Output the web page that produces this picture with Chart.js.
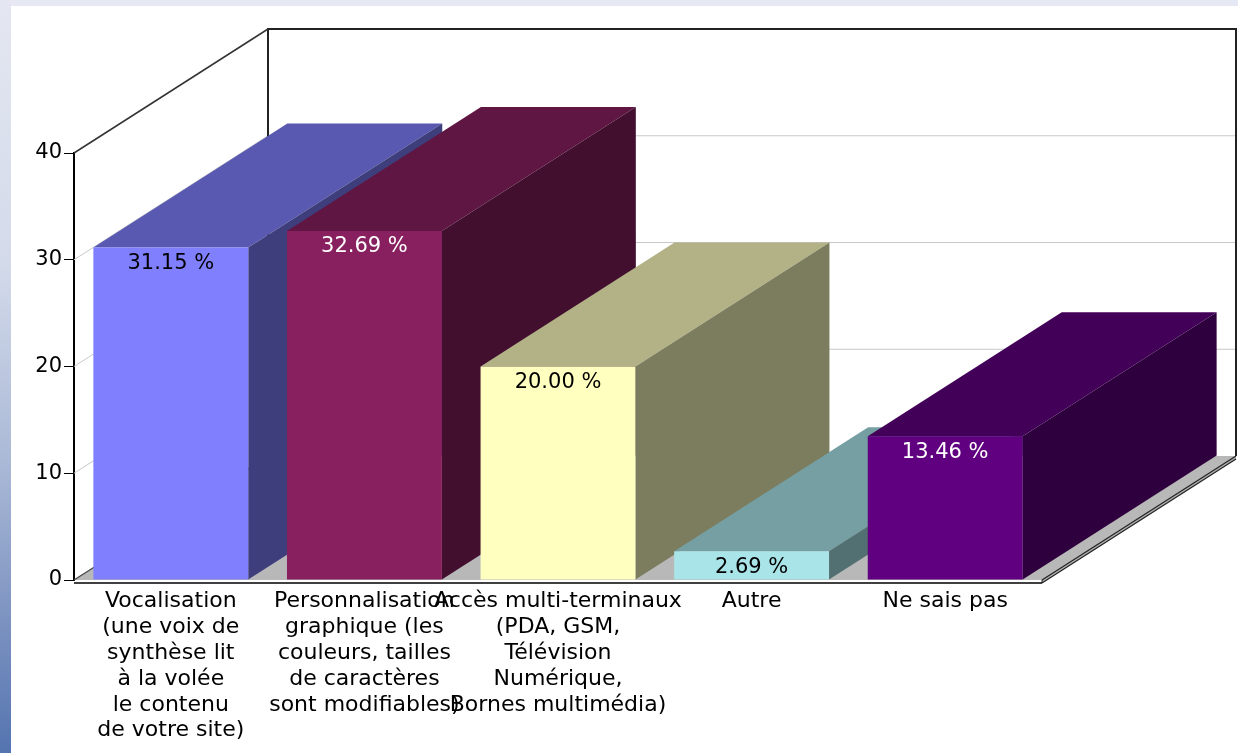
<!DOCTYPE html>
<html>
<head>
<meta charset="utf-8">
<script src="https://cdn.jsdelivr.net/npm/chart.js@4.4.1/dist/chart.umd.min.js"></script>
<style>
  html, body { margin: 0; padding: 0; }
  body { width: 1238px; height: 753px; background: #e6e9f3; position: relative; overflow: hidden; }
  #strip { position: absolute; left: 0; top: 0; width: 11px; height: 753px;
           background: linear-gradient(to bottom, #e4e7f1 0%, #d3daea 35%, #a9b8d6 62%, #7d93c1 82%, #5474b0 100%); }
  #box { position: absolute; left: 11px; top: 6px; width: 1227px; height: 747px; background: #fff; }
</style>
</head>
<body>
<div id="strip"></div>
<div id="box"><canvas id="chart" width="1227" height="747"></canvas></div>
<script>
const categories = [
    ['Vocalisation', '(une voix de', 'synthèse lit', 'à la volée', 'le contenu', 'de votre site)'],
    ['Personnalisation', 'graphique (les', 'couleurs, tailles', 'de caractères', 'sont modifiables)'],
    ['Accès multi-terminaux', '(PDA, GSM,', 'Télévision', 'Numérique,', 'Bornes multimédia)'],
    ['Autre'],
    ['Ne sais pas']
];
const percentages = [31.15, 32.69, 20.00, 2.69, 13.46];
const yTicks = [0, 10, 20, 30, 40];

const barColors = ['#8080ff', '#882060', '#ffffc0', '#a8e4e8', '#600080'];

// 3d offset of the back wall
const DX = 194;
const DY = -124;

Chart.defaults.font.family = '"DejaVu Sans", sans-serif';
Chart.defaults.color = '#000';

function shade(hex, f) {
    const n = parseInt(hex.slice(1), 16);
    const r = Math.floor(((n >> 16) & 255) * f);
    const g = Math.floor(((n >> 8) & 255) * f);
    const b = Math.floor((n & 255) * f);
    return 'rgb(' + r + ',' + g + ',' + b + ')';
}

function isDark(hex) {
    const n = parseInt(hex.slice(1), 16);
    const lum = 0.299 * ((n >> 16) & 255) + 0.587 * ((n >> 8) & 255) + 0.114 * (n & 255);
    return lum < 110;
}

function poly(ctx, pts, fill) {
    ctx.beginPath();
    ctx.moveTo(pts[0][0], pts[0][1]);
    for (let i = 1; i < pts.length; i++) ctx.lineTo(pts[i][0], pts[i][1]);
    ctx.closePath();
    ctx.fillStyle = fill;
    ctx.fill();
}

function line(ctx, x1, y1, x2, y2, color, w) {
    ctx.beginPath();
    ctx.moveTo(x1, y1);
    ctx.lineTo(x2, y2);
    ctx.strokeStyle = color;
    ctx.lineWidth = w;
    ctx.stroke();
}

const box3d = {
    id: 'box3d',
    beforeDatasetsDraw(chart) {
        const ctx = chart.ctx;
        const a = chart.chartArea;
        const y = chart.scales.y;
        const L = a.left, R = a.right;
        const B = y.getPixelForValue(y.min), T = y.getPixelForValue(y.max);
        ctx.save();

        // grid lines on left and back wall
        yTicks.forEach(v => {
            if (v === y.min || v === y.max) return;
            const py = y.getPixelForValue(v);
            line(ctx, L, py, L + DX, py + DY, '#c8c8c8', 1);
            line(ctx, L + DX, py + DY, R + DX, py + DY, '#c8c8c8', 1);
        });

        // back wall outline + top edge of left wall
        ctx.beginPath();
        ctx.moveTo(L + DX, B + DY);
        ctx.lineTo(L + DX, T + DY);
        ctx.lineTo(R + DX, T + DY);
        ctx.lineTo(R + DX, B + DY);
        ctx.strokeStyle = '#222';
        ctx.lineWidth = 2;
        ctx.stroke();
        line(ctx, L, T, L + DX, T + DY, '#333', 1.5);

        // floor slab
        const th = 3;
        poly(ctx, [[L, B], [R, B], [R + DX, B + DY], [L + DX, B + DY]], '#b8b8b8');
        poly(ctx, [[R, B], [R + DX, B + DY], [R + DX, B + DY + th], [R, B + th]], '#b0b0b0');
        line(ctx, L, B, L + DX, B + DY, '#444', 1.2);
        line(ctx, R, B, R + DX, B + DY, '#222', 1.2);
        line(ctx, R, B + th, R + DX, B + DY + th, '#222', 1.2);
        line(ctx, L, B + th, R, B + th, '#000', 1.5);
        line(ctx, R, B, R, B + th, '#222', 1);

        // top and side faces of the bars, left to right
        const meta = chart.getDatasetMeta(0);
        meta.data.forEach((bar, i) => {
            const p = bar.getProps(['x', 'y', 'base', 'width'], true);
            const l = p.x - p.width / 2, r = p.x + p.width / 2;
            poly(ctx, [[l, p.y], [r, p.y], [r + DX, p.y + DY], [l + DX, p.y + DY]], shade(barColors[i], 0.7));
            poly(ctx, [[r, p.y], [r + DX, p.y + DY], [r + DX, p.base + DY], [r, p.base]], shade(barColors[i], 0.49));
        });
        ctx.restore();
    },
    afterDatasetsDraw(chart) {
        const ctx = chart.ctx;
        const meta = chart.getDatasetMeta(0);
        ctx.save();
        ctx.font = '21px "DejaVu Sans"';
        ctx.textAlign = 'center';
        ctx.textBaseline = 'middle';
        meta.data.forEach((bar, i) => {
            ctx.fillStyle = isDark(barColors[i]) ? '#fff' : '#000';
            ctx.fillText(percentages[i].toFixed(2) + ' %', bar.x, bar.y + 16);
        });
        ctx.restore();
    }
};

new Chart(document.getElementById('chart'), {
    type: 'bar',
    data: {
        labels: categories,
        datasets: [{
            data: percentages,
            backgroundColor: barColors,
            borderWidth: 0,
            barPercentage: 0.8,
            categoryPercentage: 1.0
        }]
    },
    options: {
        responsive: false,
        animation: false,
        layout: { padding: { left: 0, top: 147, right: 196, bottom: 0 } },
        plugins: {
            legend: { display: false },
            tooltip: { enabled: false }
        },
        scales: {
            x: {
                grid: { display: false, drawTicks: false },
                border: { display: false },
                ticks: {
                    autoSkip: false,
                    maxRotation: 0,
                    minRotation: 0,
                    padding: 8,
                    color: '#000',
                    font: { size: 22, lineHeight: 1.18 }
                },
                afterFit(scale) { scale.height = 173; }
            },
            y: {
                min: 0,
                max: 40,
                grid: { display: true, drawOnChartArea: false, drawTicks: true, tickLength: 10, color: '#000' },
                border: { display: true, color: '#000', width: 2 },
                ticks: { stepSize: 10, padding: 2, color: '#000', font: { size: 21 } },
                afterFit(scale) { scale.width = 63; }
            }
        }
    },
    plugins: [box3d]
});
</script>
</body>
</html>
